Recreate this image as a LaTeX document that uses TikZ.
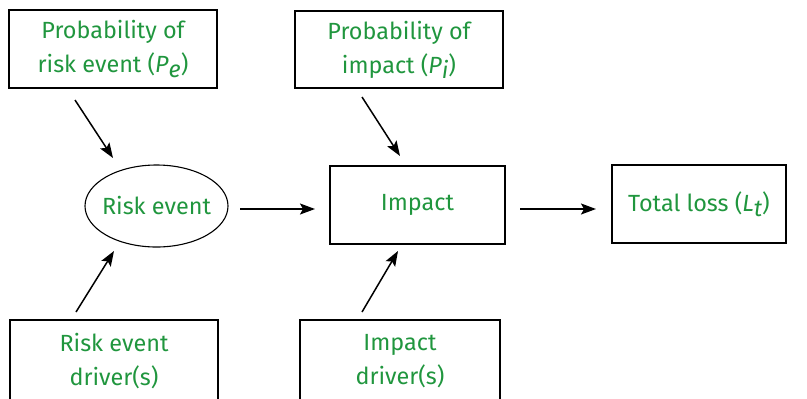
\documentclass[tikz,border=0pt]{standalone}
\usepackage{fontspec}
\setmainfont{Fira Sans}
\usetikzlibrary{arrows.meta,shapes.geometric}
\definecolor{txtgreen}{RGB}{32,150,62}
\newcommand{\sub}[2]{\textit{#1}\raisebox{-0.4ex}{\textit{#2}}}
\begin{document}
\begin{tikzpicture}[x=1bp,y=-1bp,
  box/.style={draw, line width=1.1bp, font=\fontsize{23.5}{34}\selectfont, text=txtgreen, align=center, inner sep=0pt},
  arr/.style={line width=1.5bp, -{Stealth[length=15bp,width=11bp,inset=3bp]}}]
\useasboundingbox (0,0) rectangle (807,398);
\begin{scope}
\clip (0,0) rectangle (807,398);
\node[box, minimum width=208bp, minimum height=78bp] (pe) at (113,49) {Probability of\\risk event (\sub{P}{e})};
\node[box, minimum width=208bp, minimum height=77bp] (pi) at (399,49.5) {Probability of\\impact (\sub{P}{i})};
\node[box, ellipse, inner xsep=-4bp, minimum width=143bp, minimum height=82bp] (re) at (156.5,206) {Risk event};
\node[box, minimum width=175bp, minimum height=78bp] (im) at (417.5,205) {Impact};
\node[box, minimum width=174bp, minimum height=78bp] (tl) at (699,204) {Total loss (\sub{L}{t})};
\node[box, minimum width=208bp, minimum height=82bp] (rd) at (114,361) {Risk event\\driver(s)};
\node[box, minimum width=200bp, minimum height=82bp] (id) at (400,361) {Impact\\driver(s)};
\end{scope}
\coordinate (a1s) at (75,100); \coordinate (a1e) at (113,158);
\coordinate (a2s) at (362,97); \coordinate (a2e) at (400,156);
\coordinate (a3s) at (76,312); \coordinate (a3e) at (114,251);
\coordinate (a4s) at (362,312); \coordinate (a4e) at (398,251);
\coordinate (a5s) at (240,209); \coordinate (a5e) at (315,209);
\coordinate (a6s) at (520,209); \coordinate (a6e) at (596,209);
\draw[arr] (a1s) -- (a1e);
\draw[arr] (a2s) -- (a2e);
\draw[arr] (a3s) -- (a3e);
\draw[arr] (a4s) -- (a4e);
\draw[arr] (a5s) -- (a5e);
\draw[arr] (a6s) -- (a6e);
\end{tikzpicture}
\end{document}
